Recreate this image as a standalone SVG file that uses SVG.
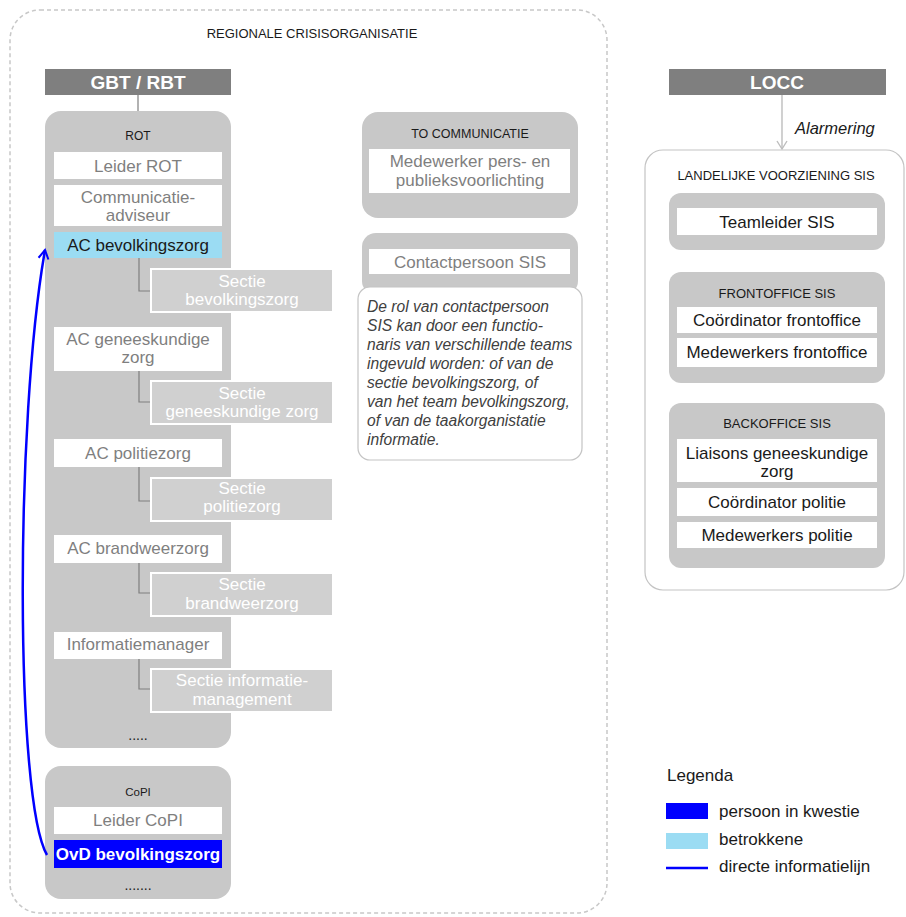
<svg xmlns="http://www.w3.org/2000/svg" width="906" height="917" viewBox="0 0 906 917">
<defs>
<style>
text{font-family:"Liberation Sans",Arial,sans-serif;}
.bar{fill:#7f7f7f;}
.bartxt{fill:#fff;font-size:19px;font-weight:bold;text-anchor:middle;}
.grp{fill:#c8c8c8;}
.wbox{fill:#fff;}
.sect{fill:#d0d0d0;stroke:#fff;stroke-width:2;}
.lbl{fill:#1a1a1a;font-size:12.5px;text-anchor:middle;}
.gt{fill:#7f7f7f;font-size:17px;text-anchor:middle;}
.st{fill:#fff;font-size:17px;text-anchor:middle;}
.dt{fill:#1a1a1a;font-size:17px;text-anchor:middle;}
.note{fill:#404040;font-size:15.6px;font-style:italic;}
.conn{fill:none;stroke:#7f7f7f;stroke-width:1.2;}
</style>
<marker id="blueArrow" viewBox="0 0 10 10" refX="8" refY="5" markerWidth="5" markerHeight="5" orient="auto" markerUnits="strokeWidth">
<path d="M1,1 L8,5 L1,9" fill="none" stroke="#0000ff" stroke-width="1.6"/>
</marker>
<marker id="grayArrow" viewBox="0 0 12 12" refX="10" refY="6" markerWidth="12" markerHeight="12" orient="auto" markerUnits="userSpaceOnUse">
<path d="M2,1 L10,6 L2,11" fill="none" stroke="#bdbdbd" stroke-width="1.4"/>
</marker>
</defs>
<rect width="906" height="917" fill="#fff"/>

<g id="regionale">
<rect x="10" y="10" width="597" height="903" rx="30" fill="none" stroke="#c8c8c8" stroke-width="1.5" stroke-dasharray="4 3"/>
<text x="312" y="38" class="lbl" style="font-size:13px">REGIONALE CRISISORGANISATIE</text>
</g>

<g id="gbt">
<rect x="45" y="69" width="186" height="26" class="bar"/>
<text x="138" y="89" class="bartxt">GBT / RBT</text>
</g>

<g id="rot">
<rect x="45" y="111" width="186" height="637" rx="16" class="grp"/>
<text x="138" y="140" class="lbl" style="font-size:12px">ROT</text>
<text x="138" y="740" class="dt" style="font-size:14px">.....</text>
</g>

<g id="connectors">
<line x1="138" y1="95" x2="138" y2="111" class="conn"/>
<path d="M139,258 V291 H151" class="conn"/>
<path d="M139,371 V402 H151" class="conn"/>
<path d="M139,467 V501 H151" class="conn"/>
<path d="M139,563 V593 H151" class="conn"/>
<path d="M139,659 V689 H151" class="conn"/>
<line x1="782" y1="95" x2="782" y2="149" stroke="#bdbdbd" stroke-width="1.4" marker-end="url(#grayArrow)"/>
<text x="795" y="134" style="font-size:16.5px;font-style:italic;fill:#1a1a1a">Alarmering</text>
</g>

<g id="leider-rot"><rect x="54" y="152" width="168" height="27" class="wbox"/><text x="138" y="171.5" class="gt">Leider ROT</text></g>
<g id="comm-adviseur"><rect x="54" y="185" width="168" height="41" class="wbox"/><text x="138" y="202.5" class="gt">Communicatie-</text><text x="138" y="221" class="gt">adviseur</text></g>
<g id="ac-bevolkingszorg"><rect x="54" y="232" width="168" height="26" fill="#9bdcf3"/><text x="138" y="251" class="dt">AC bevolkingszorg</text></g>
<g id="sectie-bevolkingszorg"><rect x="151" y="269" width="182" height="43" class="sect"/><text x="242" y="286.5" class="st">Sectie</text><text x="242" y="305" class="st">bevolkingszorg</text></g>
<g id="ac-geneeskundige"><rect x="54" y="327" width="168" height="44" class="wbox"/><text x="138" y="344.5" class="gt">AC geneeskundige</text><text x="138" y="363" class="gt">zorg</text></g>
<g id="sectie-geneeskundige"><rect x="151" y="381" width="182" height="43" class="sect"/><text x="242" y="398.5" class="st">Sectie</text><text x="242" y="417" class="st">geneeskundige zorg</text></g>
<g id="ac-politiezorg"><rect x="54" y="439" width="168" height="28" class="wbox"/><text x="138" y="459" class="gt">AC politiezorg</text></g>
<g id="sectie-politiezorg"><rect x="151" y="478" width="182" height="43" class="sect"/><text x="242" y="493.5" class="st">Sectie</text><text x="242" y="512" class="st">politiezorg</text></g>
<g id="ac-brandweerzorg"><rect x="54" y="535" width="168" height="28" class="wbox"/><text x="138" y="554" class="gt">AC brandweerzorg</text></g>
<g id="sectie-brandweerzorg"><rect x="151" y="573" width="182" height="43" class="sect"/><text x="242" y="590" class="st">Sectie</text><text x="242" y="608.5" class="st">brandweerzorg</text></g>
<g id="informatiemanager"><rect x="54" y="632" width="168" height="27" class="wbox"/><text x="138" y="650" class="gt">Informatiemanager</text></g>
<g id="sectie-informatiemanagement"><rect x="151" y="669" width="182" height="43" class="sect"/><text x="242" y="686" class="st">Sectie informatie-</text><text x="242" y="704.5" class="st">management</text></g>

<g id="copi">
<rect x="45" y="766" width="186" height="133" rx="16" class="grp"/>
<text x="138" y="796" class="lbl" style="font-size:11.5px">CoPI</text>
<text x="138" y="890" class="dt" style="font-size:14px">.......</text>
</g>
<g id="leider-copi"><rect x="54" y="807" width="168" height="27" class="wbox"/><text x="138" y="826" class="gt">Leider CoPI</text></g>
<g id="ovd-bevolkingszorg"><rect x="54" y="840" width="168" height="28" fill="#0000ff"/><text x="138" y="860" class="st" style="font-weight:bold">OvD bevolkingszorg</text></g>

<g id="to-communicatie">
<rect x="362" y="112" width="216" height="106" rx="16" class="grp"/>
<text x="470" y="137.5" class="lbl">TO COMMUNICATIE</text>
<rect x="369" y="149" width="201" height="44" class="wbox"/>
<text x="470" y="167" class="gt">Medewerker pers- en</text>
<text x="470" y="185.5" class="gt">publieksvoorlichting</text>
</g>

<g id="contactpersoon-sis">
<rect x="362" y="233" width="216" height="62" rx="14" class="grp"/>
<rect x="369" y="249" width="201" height="25" class="wbox"/>
<text x="470" y="268" class="gt">Contactpersoon SIS</text>
</g>
<g id="note">
<rect x="358" y="287" width="224" height="173" rx="12" fill="#fff" stroke="#c4c4c4" stroke-width="1.2"/>
<text class="note" x="367" y="312">De rol van contactpersoon</text>
<text class="note" x="367" y="331">SIS kan door een functio-</text>
<text class="note" x="367" y="350">naris van verschillende teams</text>
<text class="note" x="367" y="369">ingevuld worden: of van de</text>
<text class="note" x="367" y="388">sectie bevolkingszorg, of</text>
<text class="note" x="367" y="407">van het team bevolkingszorg,</text>
<text class="note" x="367" y="426">of van de taakorganistatie</text>
<text class="note" x="367" y="445">informatie.</text>
</g>

<g id="locc">
<rect x="669" y="69" width="217" height="26" class="bar"/>
<text x="777" y="89" class="bartxt">LOCC</text>
</g>

<g id="landelijke-voorziening">
<rect x="645" y="150" width="259" height="440" rx="18" fill="#fff" stroke="#c4c4c4" stroke-width="1.2"/>
<text x="776" y="179.5" class="lbl" style="font-size:13px">LANDELIJKE VOORZIENING SIS</text>
</g>
<g id="teamleider-sis">
<rect x="669" y="193" width="216" height="57" rx="12" class="grp"/>
<rect x="677" y="208" width="200" height="27" class="wbox"/>
<text x="777" y="227.5" class="dt">Teamleider SIS</text>
</g>
<g id="frontoffice-sis">
<rect x="669" y="272" width="216" height="111" rx="12" class="grp"/>
<text x="777" y="297.5" class="lbl" style="font-size:13px">FRONTOFFICE SIS</text>
<rect x="677" y="307" width="200" height="26" class="wbox"/>
<text x="777" y="326" class="dt">Coördinator frontoffice</text>
<rect x="677" y="338" width="200" height="29" class="wbox"/>
<text x="777" y="358" class="dt">Medewerkers frontoffice</text>
</g>
<g id="backoffice-sis">
<rect x="669" y="403" width="216" height="165" rx="12" class="grp"/>
<text x="777" y="427.5" class="lbl" style="font-size:13px">BACKOFFICE SIS</text>
<rect x="677" y="439" width="200" height="43" class="wbox"/>
<text x="777" y="458.5" class="dt">Liaisons geneeskundige</text>
<text x="777" y="477" class="dt">zorg</text>
<rect x="677" y="488" width="200" height="28" class="wbox"/>
<text x="777" y="508" class="dt">Coördinator politie</text>
<rect x="677" y="522" width="200" height="26" class="wbox"/>
<text x="777" y="541" class="dt">Medewerkers politie</text>
</g>

<g id="informatielijn">
<path d="M47,855 C15,800 15,420 45,250" fill="none" stroke="#0000ff" stroke-width="2.5" marker-end="url(#blueArrow)"/>
</g>

<g id="legenda">
<text x="667" y="781" style="font-size:17px;fill:#1a1a1a">Legenda</text>
<rect x="666" y="803" width="42" height="16" fill="#0000ff"/>
<text x="719" y="817" style="font-size:17px;fill:#1a1a1a">persoon in kwestie</text>
<rect x="666" y="833" width="42" height="16" fill="#9bdcf3"/>
<text x="719" y="845" style="font-size:17px;fill:#1a1a1a">betrokkene</text>
<line x1="666" y1="868" x2="708" y2="868" stroke="#0000ff" stroke-width="2.5"/>
<text x="719" y="872" style="font-size:17px;fill:#1a1a1a">directe informatielijn</text>
</g>
</svg>
